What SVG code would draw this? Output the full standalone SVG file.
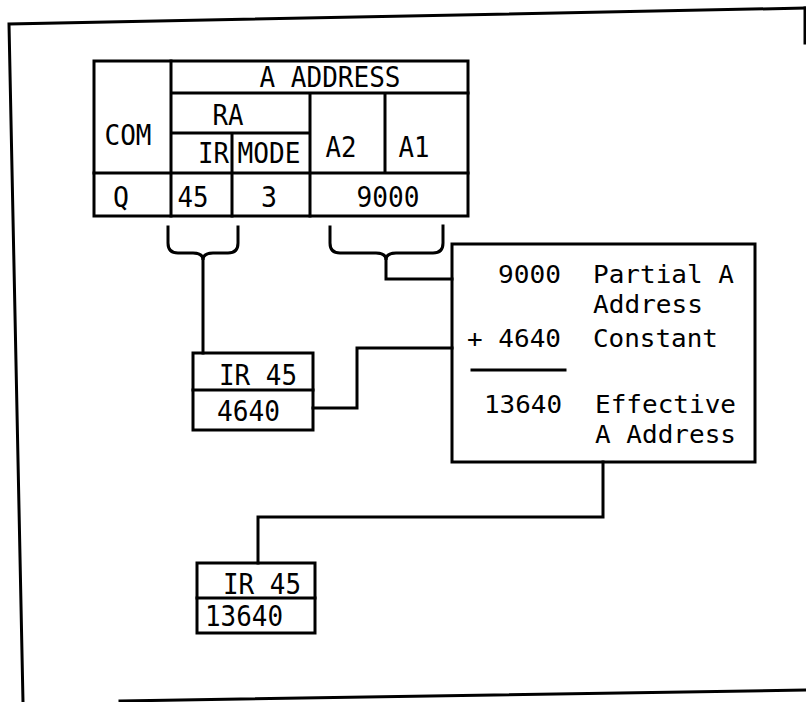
<svg xmlns="http://www.w3.org/2000/svg" width="806" height="702" viewBox="0 0 806 702">
<style>
.ln{fill:none;stroke:#000;stroke-width:3;stroke-linejoin:miter;stroke-linecap:square}
.tx{font-family:"DejaVu Sans Mono","Liberation Mono",monospace;font-size:29px;fill:#000}
.sm{font-size:25.5px}
.m{text-anchor:middle}
.e{text-anchor:end}
</style>
<rect width="806" height="702" fill="#fff"/>
<g id="frame">
<path class="ln" d="M23,702 L9,24 L806,8"/>
<path class="ln" d="M805,8 V43"/>
<path class="ln" d="M120,701 L806,690"/>
</g>
<g id="instruction">
<rect class="ln" x="94" y="61" width="374" height="155"/>
<path class="ln" d="M171,61 V216 M171,93 H468 M171,133 H310 M310,93 V216 M385,93 V173 M94,173 H468 M232,133 V216"/>
<text class="tx m" x="330" y="87" textLength="141" lengthAdjust="spacingAndGlyphs">A ADDRESS</text>
<text class="tx m" x="128" y="145" textLength="47" lengthAdjust="spacingAndGlyphs">COM</text>
<text class="tx m" x="228" y="125" textLength="31" lengthAdjust="spacingAndGlyphs">RA</text>
<text class="tx e" x="229" y="163" textLength="31" lengthAdjust="spacingAndGlyphs">IR</text>
<text class="tx m" x="269" y="163" textLength="63" lengthAdjust="spacingAndGlyphs">MODE</text>
<text class="tx m" x="341" y="157" textLength="31" lengthAdjust="spacingAndGlyphs">A2</text>
<text class="tx m" x="414" y="157" textLength="31" lengthAdjust="spacingAndGlyphs">A1</text>
<text class="tx m" x="121" y="207" textLength="16" lengthAdjust="spacingAndGlyphs">Q</text>
<text class="tx m" x="193" y="207" textLength="31" lengthAdjust="spacingAndGlyphs">45</text>
<text class="tx m" x="269" y="207" textLength="16" lengthAdjust="spacingAndGlyphs">3</text>
<text class="tx m" x="388" y="207" textLength="63" lengthAdjust="spacingAndGlyphs">9000</text>
</g>
<g id="ir45a">
<rect class="ln" x="193" y="353" width="120" height="77"/>
<path class="ln" d="M193,390 H313"/>
<text class="tx" x="219" y="385" textLength="78" lengthAdjust="spacingAndGlyphs">IR 45</text>
<text class="tx" x="217" y="421" textLength="63" lengthAdjust="spacingAndGlyphs">4640</text>
</g>
<g id="adder">
<rect class="ln" x="452" y="244" width="303" height="218"/>
<text class="tx sm e" x="561" y="283" textLength="63" lengthAdjust="spacingAndGlyphs">9000</text>
<text class="tx sm" x="593" y="283" textLength="141" lengthAdjust="spacingAndGlyphs">Partial A</text>
<text class="tx sm" x="593" y="313" textLength="110" lengthAdjust="spacingAndGlyphs">Address</text>
<text class="tx sm e" x="561" y="347" textLength="94" lengthAdjust="spacingAndGlyphs">+ 4640</text>
<text class="tx sm" x="593" y="347" textLength="125" lengthAdjust="spacingAndGlyphs">Constant</text>
<path class="ln" d="M472,370 H565"/>
<text class="tx sm e" x="562" y="413" textLength="78" lengthAdjust="spacingAndGlyphs">13640</text>
<text class="tx sm" x="595" y="413" textLength="141" lengthAdjust="spacingAndGlyphs">Effective</text>
<text class="tx sm" x="595" y="443" textLength="141" lengthAdjust="spacingAndGlyphs">A Address</text>
</g>
<g id="ir45b">
<rect class="ln" x="197" y="563" width="118" height="70"/>
<path class="ln" d="M197,598 H315"/>
<text class="tx" x="223" y="594" textLength="78" lengthAdjust="spacingAndGlyphs">IR 45</text>
<text class="tx" x="205" y="626" textLength="78" lengthAdjust="spacingAndGlyphs">13640</text>
</g>
<g id="connectors">
<path class="ln" d="M168,227 V243 Q168,253 178,253 H193 Q203,253 203,260 Q203,253 213,253 H228 Q238,253 238,243 V227"/>
<path class="ln" d="M203,260 V353"/>
<path class="ln" d="M330,227 V243 Q330,253 340,253 H376 Q386,253 386,260 Q386,253 396,253 H433 Q443,253 443,243 V226"/>
<path class="ln" d="M386,260 V279 H452"/>
<path class="ln" d="M313,408 H357 V348 H452"/>
<path class="ln" d="M603,462 V517 H258 V563"/>
</g>
</svg>
